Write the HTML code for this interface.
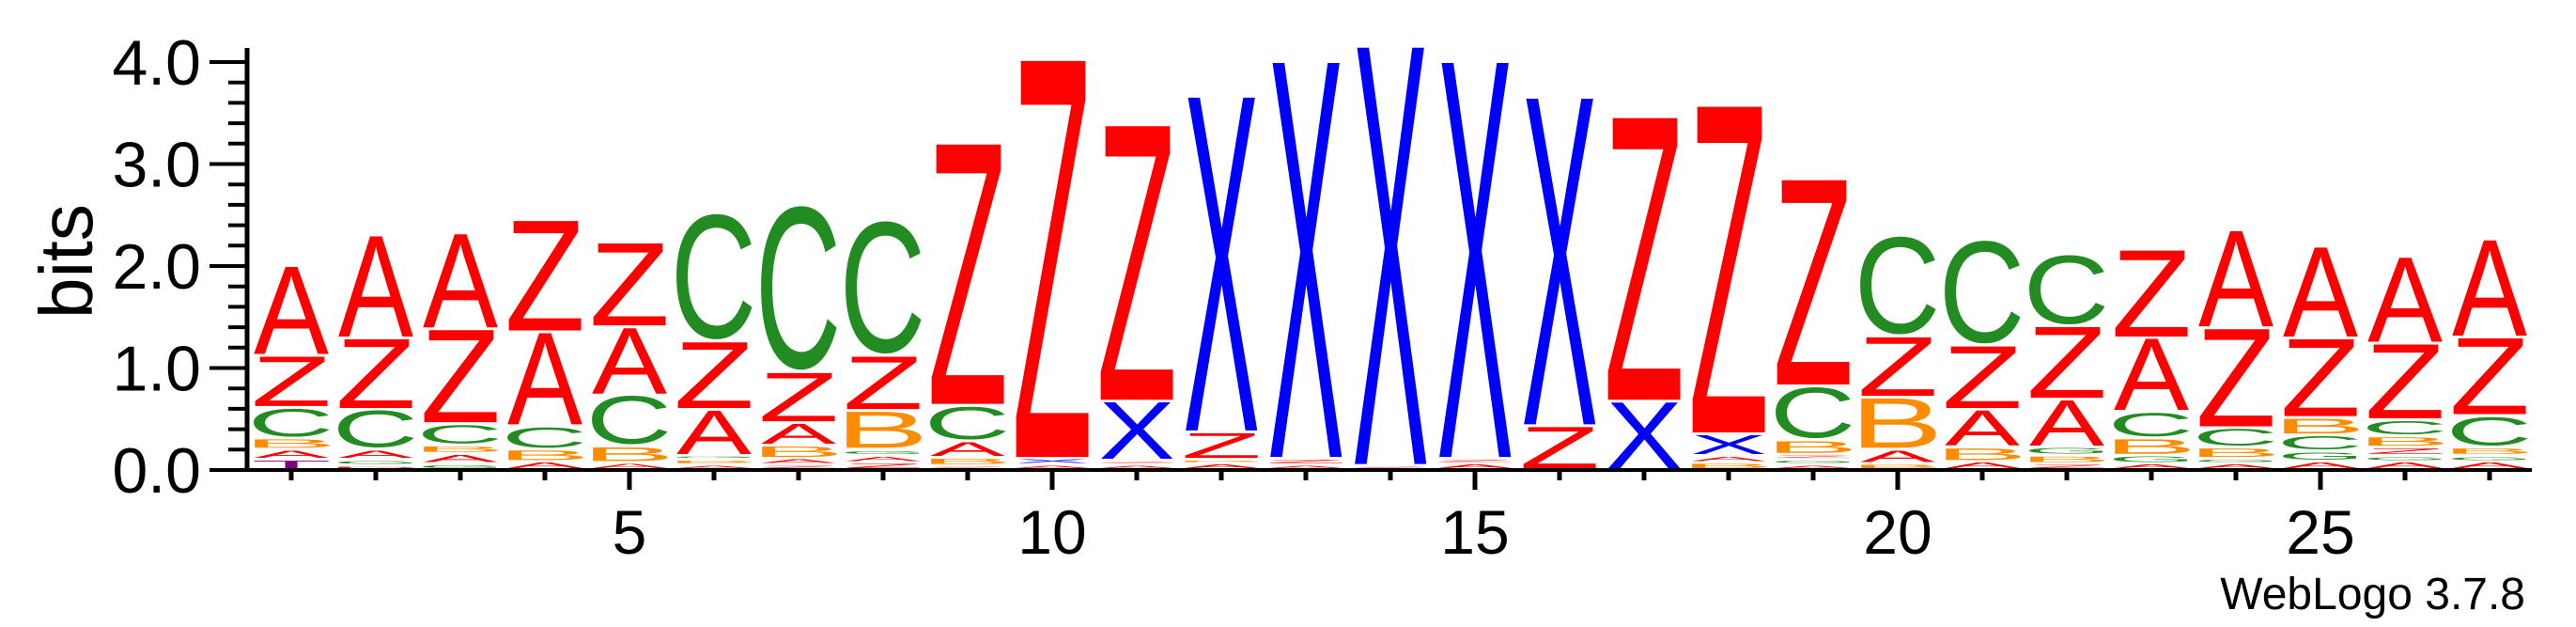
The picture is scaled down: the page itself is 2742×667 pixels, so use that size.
<!DOCTYPE html>
<html><head><meta charset="utf-8"><style>
html,body{margin:0;padding:0;background:#fff;}
svg{display:block;}
</style></head><body>
<svg id="logo" width="2742" height="667" viewBox="0 0 2742 667" xmlns="http://www.w3.org/2000/svg" font-family="Liberation Sans, Arial, sans-serif">
  <g id="letters"></g>
  <g id="axes"></g>
  <text x="0" y="0" transform="translate(98,278) rotate(-90)" text-anchor="middle" font-size="80" textLength="122" lengthAdjust="spacingAndGlyphs">bits</text>
  <text x="2688" y="648" text-anchor="end" font-size="48">WebLogo 3.7.8</text>
</svg>
<script>
const positions = [1,2,3,4,5,6,7,8,9,10,11,12,13,14,15,16,17,18,19,20,21,22,23,24,25,26,27];
const stackLetters = ["TABCZA","DGACZA","GABCZA","ABCAZ","ABCAZ","ABGAZC","ZABAZC","ZAGBZC","ZBACZ","AXZ","AZXZ","ABZX","AZX","ZX","AZX","ZX","XZ","BAXZ","AGZBCZ","BABZC","ABAZC","ZBGAZC","AGBCAZ","AGBCZA","AGCBZA","AGZBCZA","AGBCZA"];
const stackHeights = [
 [.1,.1,.11,.30,.51,.88],
 [.04,.06,.1,.39,.70,1.01],
 [.06,.1,.08,.21,.93,.94],
 [.08,.12,.23,.92,1.10],
 [.07,.16,.5,.67,.83],
 [.05,.05,.04,.45,.67,1.26],
 [.05,.06,.13,.22,.5,1.64],
 [.07,.07,.06,.38,.54,1.33],
 [.04,.08,.16,.35,2.57],
 [.05,.06,3.91],
 [.05,.04,.58,2.71],
 [.06,.04,.27,3.29],
 [.05,.06,3.89],
 [.04,4.11],
 [.06,.05,3.89],
 [.43,3.22],
 [.67,2.79],
 [.07,.07,.21,3.22],
 [.05,.05,.05,.14,.53,2.03],
 [.06,.14,.51,.60,.99],
 [.08,.14,.37,.63,1.04],
 [.06,.08,.08,.47,.72,.71],
 [.06,.08,.17,.26,.72,.87],
 [.06,.05,.11,.19,.98,.96],
 [.08,.1,.16,.17,.78,.9],
 [.08,.06,.08,.11,.16,.75,.85],
 [.08,.06,.08,.31,.77,.96]
];
const yTickLabels = ["0.0","1.0","2.0","3.0","4.0"];
const yTickValues = [0,1,2,3,4];
const xTickLabels = ["5","10","15","20","25"];
const xTickValues = [5,10,15,20,25];

const NS="http://www.w3.org/2000/svg";
function xAxis(p){return 310+(p-1)*90;}
function yAxis(v){return 500-v*108.5;}
const colors={A:"#ff0000",Z:"#ff0000",D:"#ff0000",C:"#228b22",G:"#228b22",B:"#ff8c00",X:"#0000ff",T:"#800080"};
const metrics={A:[0,0.667,0,0.688],Z:[0.02,0.59,0,0.688],C:[0.05,0.68,-0.012,0.70],G:[0.05,0.72,-0.012,0.70],B:[0.074,0.61,0,0.688],X:[0.005,0.66,0,0.688],T:[0.02,0.59,0,0.688],D:[0.08,0.67,0,0.688]};
const lg=document.getElementById('letters');
positions.forEach((p,i)=>{
  const letters=stackLetters[i], hs=stackHeights[i];
  let acc=0;
  const col=document.createElementNS(NS,'g');
  
  
  lg.appendChild(col);
  for(let k=0;k<letters.length;k++){
    const L=letters[k], h=hs[k];
    const m=metrics[L];
    const W=80, cx=xAxis(p);
    const bottom=yAxis(acc)-2;
    const H=Math.max(0.8,h*108.5-3);
    const sx=W/(100*(m[1]-m[0]));
    const sy=H/(100*(m[3]-m[2]));
    const tx=cx-W/2-sx*100*m[0];
    const ty=bottom+sy*100*m[2];
    const t=document.createElementNS(NS,'text');
    
    
    t.setAttribute('x','0');t.setAttribute('y','0');
    t.setAttribute('font-size','100');
    t.setAttribute('fill',colors[L]);
    t.setAttribute('transform','translate('+tx+','+ty+') scale('+sx+','+sy+')');
    t.textContent=L;
    col.appendChild(t);
    acc+=h;
  }
});
const ax=document.getElementById('axes');
function line(x1,y1,x2,y2,w,name){
  const l=document.createElementNS(NS,'line');
  
  
  l.setAttribute('x1',x1);l.setAttribute('y1',y1);l.setAttribute('x2',x2);l.setAttribute('y2',y2);
  l.setAttribute('stroke','#000');l.setAttribute('stroke-width',w);
  ax.appendChild(l);
}
line(263,51,263,502,5,'y-axis-line');
line(261,500,2695,500,4,'x-axis-line');
for(let v=0;v<=4.001;v+=0.2){
  const major=Math.abs(v-Math.round(v))<0.01;
  line(major?223:243,yAxis(v),263,yAxis(v),4,major?'y-major-tick':'y-minor-tick');
}
yTickValues.forEach((v,i)=>{
  const t=document.createElementNS(NS,'text');
  
  
  t.setAttribute('x','214');t.setAttribute('y',yAxis(v)+24);
  t.setAttribute('text-anchor','end');t.setAttribute('font-size','68');
  t.textContent=yTickLabels[i];ax.appendChild(t);
});
positions.forEach(p=>{
  const major=xTickValues.indexOf(p)>=0;
  line(xAxis(p),500,xAxis(p),major?521:511,5,major?'x-major-tick':'x-minor-tick');
});
xTickValues.forEach((v,i)=>{
  const t=document.createElementNS(NS,'text');
  
  
  t.setAttribute('x',xAxis(v));t.setAttribute('y','589');
  t.setAttribute('text-anchor','middle');t.setAttribute('font-size','66');
  t.textContent=xTickLabels[i];ax.appendChild(t);
});
</script>
</body></html>
